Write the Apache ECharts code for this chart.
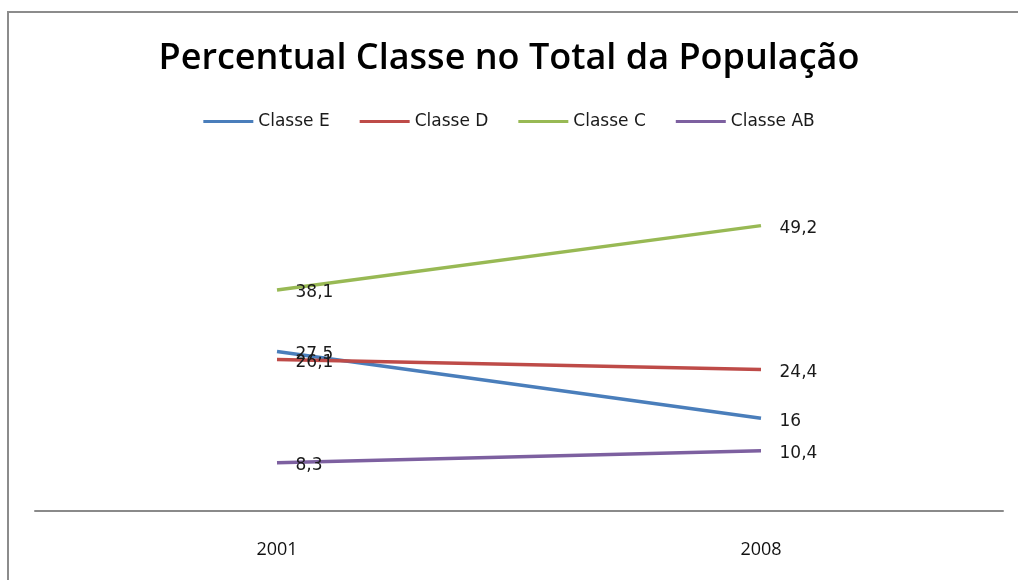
<!DOCTYPE html>
<html><head><meta charset="utf-8">
<script src="https://cdn.jsdelivr.net/npm/echarts@6/dist/echarts.min.js"></script>
<style>html,body{margin:0;padding:0;background:#fff}#c{width:1018px;height:580px}</style>
</head><body><div id="c"></div>
<script>
const categories = ['2001', '2008'];
const classeE = [27.5, 16];
const classeD = [26.1, 24.4];
const classeC = [38.1, 49.2];
const classeAB = [8.3, 10.4];
const seriesNames = ['Classe E', 'Classe D', 'Classe C', 'Classe AB'];
const colors = ['#4A7EBB', '#BE4B48', '#98B954', '#7D60A0'];

const chart = echarts.init(document.getElementById('c'));
const fmt = p => String(p.value).replace('.', ',');
function mk(name, data, color) {
  return {
    name, type: 'line', data, symbol: 'circle', symbolSize: 1, showSymbol: true,
    lineStyle: { width: 3.5, color }, itemStyle: { color: 'rgba(0,0,0,0)' },
    label: { show: true, position: 'right', distance: 18, offset: [0, 3], formatter: fmt,
      fontFamily: 'DejaVu Sans', fontSize: 17, color: '#1a1a1a' },
    emphasis: { disabled: true }, animation: false
  };
}
chart.setOption({
  animation: false,
  color: colors,
  title: { text: 'Percentual Classe no Total da População', left: 'center', top: 36,
    textStyle: { fontFamily: 'Open Sans', fontWeight: 600, fontSize: 36, color: '#000' } },
  legend: { top: 108, left: 'center', itemWidth: 50, itemHeight: 3, itemGap: 30,
    icon: 'rect',
    textStyle: { fontFamily: 'DejaVu Sans', fontSize: 17, color: '#1a1a1a' },
    data: seriesNames.map((n, i) => ({ name: n, itemStyle: { color: colors[i] } })) },
  graphic: [{ type: 'polyline', shape: { points: [[8, 600], [8, 12], [1030, 12]] },
    style: { stroke: '#8c8c8c', lineWidth: 2, fill: null }, silent: true }],
  grid: { left: 35, right: 15, top: 163, bottom: 69 },
  xAxis: { type: 'category', data: categories, boundaryGap: true,
    axisLine: { lineStyle: { color: '#8a8a8a', width: 2 } }, axisTick: { show: false },
    axisLabel: { margin: 30, fontFamily: 'Open Sans', fontSize: 18, color: '#111' } },
  yAxis: { type: 'value', min: 0, max: 60, show: false, splitLine: { show: false } },
  series: [
    mk(seriesNames[0], classeE, colors[0]),
    mk(seriesNames[1], classeD, colors[1]),
    mk(seriesNames[2], classeC, colors[2]),
    mk(seriesNames[3], classeAB, colors[3])
  ]
});
</script></body></html>
